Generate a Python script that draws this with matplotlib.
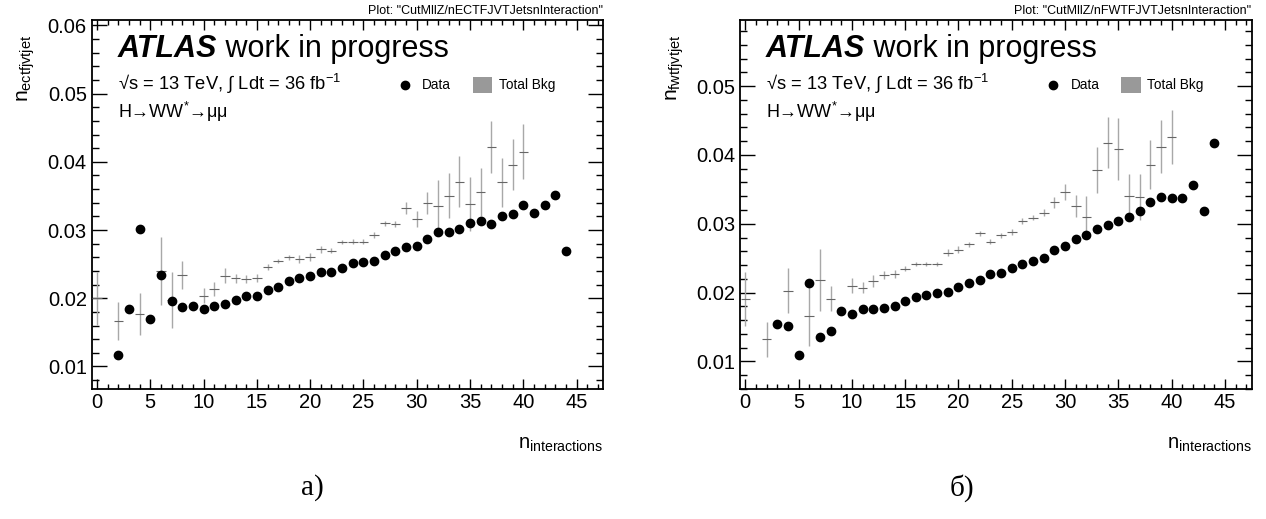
import matplotlib
matplotlib.use("Agg")
from matplotlib import pyplot as plt
from matplotlib.ticker import MultipleLocator
from matplotlib.patches import Rectangle

plt.rcParams['font.family'] = ['Liberation Sans', 'DejaVu Sans']
plt.rcParams['mathtext.fontset'] = 'custom'
plt.rcParams['mathtext.rm'] = 'Liberation Sans'
plt.rcParams['mathtext.it'] = 'Liberation Sans:italic'
plt.rcParams['mathtext.bf'] = 'Liberation Sans:bold'

# ---- panel a): ECT fJVT jets vs interactions ----
ect_data_x = [2, 3, 4, 5, 6, 7, 8, 9, 10, 11, 12, 13, 14, 15, 16, 17, 18, 19, 20,
              21, 22, 23, 24, 25, 26, 27, 28, 29, 30, 31, 32, 33, 34, 35, 36, 37,
              38, 39, 40, 41, 42, 43, 44]
ect_data_y = [0.0117, 0.0185, 0.0302, 0.0170, 0.0234, 0.0196, 0.0187, 0.0189, 0.0185,
              0.0189, 0.0192, 0.0197, 0.0203, 0.0203, 0.0212, 0.0216, 0.0225, 0.0229,
              0.0233, 0.0238, 0.0239, 0.0244, 0.0252, 0.0253, 0.0254, 0.0264, 0.0269,
              0.0275, 0.0277, 0.0287, 0.0297, 0.0297, 0.0302, 0.0311, 0.0314, 0.0309,
              0.0320, 0.0323, 0.0337, 0.0325, 0.0337, 0.0352, 0.0269]

ect_bkg_x = [0, 2, 4, 6, 7, 8, 10, 11, 12, 13, 14, 15, 16, 17, 18, 19, 20, 21, 22,
             23, 24, 25, 26, 27, 28, 29, 30, 31, 32, 33, 34, 35, 36, 37, 38, 39, 40]
ect_bkg_y = [0.0200, 0.0167, 0.0177, 0.0240, 0.0197, 0.0234, 0.0204, 0.0214, 0.0233,
             0.0229, 0.0228, 0.0230, 0.0246, 0.0254, 0.0260, 0.0258, 0.0260, 0.0272,
             0.0270, 0.0283, 0.0283, 0.0283, 0.0293, 0.0310, 0.0309, 0.0332, 0.0316,
             0.0340, 0.0336, 0.0350, 0.0371, 0.0338, 0.0356, 0.0422, 0.0370, 0.0396,
             0.0415]
ect_bkg_err = [0.0039, 0.0028, 0.0031, 0.0050, 0.0041, 0.0020, 0.0011, 0.0010, 0.0011,
               0.0006, 0.0006, 0.0006, 0.0004, 0.0003, 0.0004, 0.0006, 0.0006, 0.0005,
               0.0004, 0.0003, 0.0004, 0.0004, 0.0004, 0.0004, 0.0004, 0.0009, 0.0012,
               0.0016, 0.0038, 0.0033, 0.0037, 0.0040, 0.0035, 0.0038, 0.0036, 0.0037,
               0.0040]

# ---- panel б): FWT fJVT jets vs interactions ----
fwt_data_x = [3, 4, 5, 6, 7, 8, 9, 10, 11, 12, 13, 14, 15, 16, 17, 18, 19, 20, 21,
              22, 23, 24, 25, 26, 27, 28, 29, 30, 31, 32, 33, 34, 35, 36, 37, 38,
              39, 40, 41, 42, 43, 44]
fwt_data_y = [0.0155, 0.0151, 0.0110, 0.0214, 0.0136, 0.0144, 0.0173, 0.0169, 0.0176,
              0.0176, 0.0178, 0.0180, 0.0188, 0.0193, 0.0196, 0.0199, 0.0201, 0.0208,
              0.0214, 0.0219, 0.0227, 0.0229, 0.0236, 0.0241, 0.0246, 0.0250, 0.0262,
              0.0267, 0.0278, 0.0283, 0.0292, 0.0298, 0.0304, 0.0310, 0.0319, 0.0332,
              0.0339, 0.0338, 0.0338, 0.0356, 0.0319, 0.0417]

fwt_bkg_x = [0, 2, 4, 6, 7, 8, 10, 11, 12, 13, 14, 15, 16, 17, 18, 19, 20, 21, 22,
             23, 24, 25, 26, 27, 28, 29, 30, 31, 32, 33, 34, 35, 36, 37, 38, 39, 40]
fwt_bkg_y = [0.0191, 0.0132, 0.0203, 0.0166, 0.0218, 0.0191, 0.0210, 0.0207, 0.0217,
             0.0226, 0.0227, 0.0235, 0.0241, 0.0241, 0.0241, 0.0258, 0.0262, 0.0270,
             0.0286, 0.0274, 0.0283, 0.0288, 0.0304, 0.0309, 0.0316, 0.0331, 0.0346,
             0.0326, 0.0310, 0.0378, 0.0418, 0.0408, 0.0341, 0.0339, 0.0386, 0.0412,
             0.0426]
fwt_bkg_err = [0.0039, 0.0025, 0.0033, 0.0043, 0.0045, 0.0018, 0.0011, 0.0008, 0.0009,
               0.0006, 0.0006, 0.0004, 0.0003, 0.0003, 0.0003, 0.0005, 0.0005, 0.0004,
               0.0004, 0.0004, 0.0004, 0.0004, 0.0004, 0.0004, 0.0005, 0.0008, 0.0012,
               0.0016, 0.0030, 0.0033, 0.0037, 0.0045, 0.0032, 0.0033, 0.0036, 0.0038,
               0.0039]

panels = [
    dict(data_x=ect_data_x, data_y=ect_data_y, bkg_x=ect_bkg_x, bkg_y=ect_bkg_y,
         bkg_err=ect_bkg_err, ylabel=r'$\mathrm{n}_{\mathrm{ectfjvtjet}}$',
         plotname='Plot: "CutMllZ/nECTFJVTJetsnInteraction"',
         ylim=(0.0067, 0.0608), left=0.0724, caption='а)', cap_x=0.247),
    dict(data_x=fwt_data_x, data_y=fwt_data_y, bkg_x=fwt_bkg_x, bkg_y=fwt_bkg_y,
         bkg_err=fwt_bkg_err, ylabel=r'$\mathrm{n}_{\mathrm{fwtfjvtjet}}$',
         plotname='Plot: "CutMllZ/nFWTFJVTJetsnInteraction"',
         ylim=(0.0060, 0.0596), left=0.5845, caption='б)', cap_x=0.760),
]

fig = plt.figure(figsize=(12.66, 5.19), dpi=100)

for p in panels:
    ax = fig.add_axes([p['left'], 0.2505, 0.4041, 0.711])

    # background: grey crosses (bin width + stat error)
    ax.errorbar(p['bkg_x'], p['bkg_y'], yerr=p['bkg_err'], fmt='none',
                ecolor='#a8a8a8', elinewidth=1.0, capsize=0, zorder=2)
    ax.errorbar(p['bkg_x'], p['bkg_y'], xerr=0.45, fmt='none',
                ecolor='#666666', elinewidth=0.8, capsize=0, zorder=3)
    # data
    ax.plot(p['data_x'], p['data_y'], 'o', color='black', markersize=6, zorder=4)

    ax.set_xlim(-0.5, 47.5)
    ax.set_ylim(*p['ylim'])
    ax.xaxis.set_major_locator(MultipleLocator(5))
    ax.xaxis.set_minor_locator(MultipleLocator(1))
    ax.yaxis.set_major_locator(MultipleLocator(0.01))
    ax.yaxis.set_minor_locator(MultipleLocator(0.002))
    ax.yaxis.set_major_formatter(plt.FuncFormatter(lambda v, pos: f'{v:.2f}'))
    ax.tick_params(axis='both', which='both', direction='in', top=True, right=True,
                   labelsize=14.5, width=1.0, color='black')
    ax.tick_params(axis='y', which='major', length=10.8, pad=3.5)
    ax.tick_params(axis='y', which='minor', length=5.3)
    ax.tick_params(axis='x', which='major', length=7.4, pad=3)
    ax.tick_params(axis='x', which='minor', length=3.8)
    for s in ax.spines.values():
        s.set_linewidth(1.3)

    # axis titles (ROOT style: at the far end of the axes)
    ax.text(-0.127, 0.96, p['ylabel'], transform=ax.transAxes, rotation=90,
            ha='center', va='top', fontsize=15)
    ax.text(1.0, -0.15, r'$\mathrm{n}_{\mathrm{interactions}}$', transform=ax.transAxes,
            ha='right', va='center', fontsize=14.5)
    ax.text(1.0, 1.008, p['plotname'], transform=ax.transAxes, ha='right',
            va='bottom', fontsize=9)

    # ATLAS label block
    atl = ax.text(0.051, 0.922, 'ATLAS', transform=ax.transAxes, fontsize=22,
                  fontweight='bold', fontstyle='italic', va='center')
    ax.annotate(' work in progress', xy=(1, 0), xycoords=atl, va='bottom',
                fontsize=22)
    ax.text(0.051, 0.827, '√s = 13 TeV, ∫ Ldt = 36 fb$^{-1}$', transform=ax.transAxes,
            fontsize=13.2, va='center')
    ax.text(0.051, 0.751, 'H→WW$^{*}$→μμ', transform=ax.transAxes,
            fontsize=13, va='center')

    # legend
    ax.plot([0.612], [0.824], 'o', color='black', markersize=6,
            transform=ax.transAxes)
    ax.text(0.646, 0.824, 'Data', transform=ax.transAxes, fontsize=9.8, va='center')
    ax.add_patch(Rectangle((0.745, 0.803), 0.038, 0.042, transform=ax.transAxes,
                           facecolor='#999999', edgecolor='none'))
    ax.text(0.796, 0.824, 'Total Bkg', transform=ax.transAxes, fontsize=9.8,
            va='center')

    fig.text(p['cap_x'], 0.06, p['caption'], fontsize=21, ha='center', va='center',
             family=['Liberation Serif', 'DejaVu Serif'])

fig.savefig('out.png', dpi=100)
